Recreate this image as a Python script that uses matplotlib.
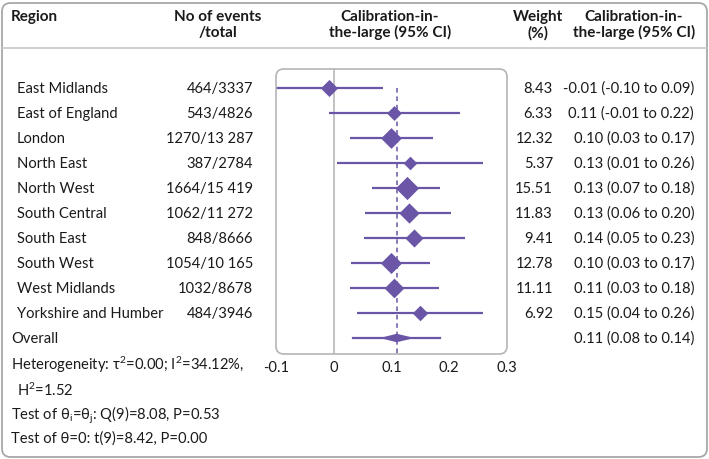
import matplotlib
matplotlib.use("Agg")
import matplotlib.pyplot as plt
import matplotlib.transforms as mtransforms
from matplotlib.patches import FancyBboxPatch
from matplotlib.lines import Line2D

plt.rcParams['font.family'] = ['Lato', 'DejaVu Sans']
plt.rcParams['mathtext.fontset'] = 'custom'
plt.rcParams['mathtext.rm'] = 'Lato'
plt.rcParams['mathtext.it'] = 'Lato:italic'
plt.rcParams['mathtext.bf'] = 'Lato:bold'

regions = ["East Midlands", "East of England", "London", "North East", "North West",
           "South Central", "South East", "South West", "West Midlands", "Yorkshire and Humber"]
events = ["464/3337", "543/4826", "1270/13 287", "387/2784", "1664/15 419",
          "1062/11 272", "848/8666", "1054/10 165", "1032/8678", "484/3946"]
estimate = [-0.009, 0.104, 0.099, 0.132, 0.126, 0.130, 0.139, 0.099, 0.104, 0.149]
ci_low = [-0.10, -0.008, 0.029, 0.006, 0.067, 0.054, 0.052, 0.030, 0.028, 0.041]
ci_high = [0.086, 0.219, 0.171, 0.259, 0.184, 0.203, 0.228, 0.167, 0.183, 0.258]
weights = [8.43, 6.33, 12.32, 5.37, 15.51, 11.83, 9.41, 12.78, 11.11, 6.92]
weight_labels = ["8.43", "6.33", "12.32", "5.37", "15.51", "11.83", "9.41", "12.78", "11.11", "6.92"]
ci_labels = ["-0.01 (-0.10 to 0.09)", "0.11 (-0.01 to 0.22)", "0.10 (0.03 to 0.17)",
             "0.13 (0.01 to 0.26)", "0.13 (0.07 to 0.18)", "0.13 (0.06 to 0.20)",
             "0.14 (0.05 to 0.23)", "0.10 (0.03 to 0.17)", "0.11 (0.03 to 0.18)",
             "0.15 (0.04 to 0.26)"]
overall_est = 0.109
overall_ci = (0.08, 0.14)
overall_pi = (0.034, 0.184)
overall_label = "0.11 (0.08 to 0.14)"
xticks = [-0.1, 0, 0.1, 0.2, 0.3]
xtick_labels = ["-0.1", "0", "0.1", "0.2", "0.3"]

PURPLE = "#6a55a7"
GRID = "#bdbdbd"
TXT = "#1a1a1a"
W, H = 709, 460
FS = 10.6
HFS = 11.0

fig = plt.figure(figsize=(W / 100, H / 100), dpi=100)

def fx(px):
    return px / W

def fy(py):
    return 1 - py / H

# outer rounded border
fig.patches.append(FancyBboxPatch((fx(2), fy(458)), fx(705), 454 / H,
                                  boxstyle="round,pad=0,rounding_size=0.012",
                                  mutation_aspect=W / H, transform=fig.transFigure,
                                  fill=False, edgecolor="#a8a8a8", linewidth=1.3))
# header separator
fig.add_artist(Line2D([fx(2), fx(707)], [fy(49), fy(49)], transform=fig.transFigure,
                      color="#c8c8c8", linewidth=1.2))

ax = fig.add_axes([fx(276), fy(355), fx(507) - fx(276), (355 - 70) / H])
n = len(regions)
ax.set_xlim(-0.1, 0.3)
ax.set_ylim(n + 0.64, -0.76)
for s in ax.spines.values():
    s.set_visible(False)
ax.set_yticks([])
ax.set_xticks(xticks)
ax.set_xticklabels(xtick_labels, fontsize=FS, color=TXT)
ax.tick_params(axis='x', length=0, pad=4)
ax.patch.set_alpha(0)

# plot box (rounded)
fig.patches.append(FancyBboxPatch((fx(276), fy(355)), fx(507) - fx(276), (355 - 70) / H,
                                  boxstyle="round,pad=0,rounding_size=0.011",
                                  mutation_aspect=W / H, transform=fig.transFigure,
                                  fill=False, edgecolor="#b5b5b5", linewidth=1.2, zorder=0))

ax.axvline(0, color=GRID, linewidth=1.3, zorder=1)
ax.plot([overall_est, overall_est], [0, n + 0.64], color=PURPLE, linestyle=(0, (3, 2.5)),
        linewidth=1.1, zorder=2)

rows = list(range(n))
for i in rows:
    ax.plot([ci_low[i], ci_high[i]], [i, i], color=PURPLE, linewidth=1.6, zorder=3,
            solid_capstyle='butt')
    ms = 4.25 * weights[i] ** 0.5
    ax.plot([estimate[i]], [i], marker=[(0, 1), (1, 0), (0, -1), (-1, 0)], markersize=ms,
            color=PURPLE, markeredgewidth=0, zorder=4)

# overall
ax.plot([overall_pi[0], overall_pi[1]], [n, n], color=PURPLE, linewidth=1.6, zorder=3)
h = 0.17
ax.fill([overall_ci[0], overall_est, overall_ci[1], overall_est], [n, n - h, n, n + h],
        color=PURPLE, zorder=4, linewidth=0)

# text columns
tr = mtransforms.blended_transform_factory(fig.transFigure, ax.transData)
for i in rows:
    fig.text(fx(17), i, regions[i], transform=tr, fontsize=FS, va='center', ha='left', color=TXT)
    fig.text(fx(253), i, events[i], transform=tr, fontsize=FS, va='center', ha='right', color=TXT)
    fig.text(fx(553), i, weight_labels[i], transform=tr, fontsize=FS, va='center', ha='right', color=TXT)
    fig.text(fx(694), i, ci_labels[i], transform=tr, fontsize=FS, va='center', ha='right', color=TXT)
fig.text(fx(11), n, "Overall", transform=tr, fontsize=FS, va='center', ha='left', color=TXT)
fig.text(fx(694), n, overall_label, transform=tr, fontsize=FS, va='center', ha='right', color=TXT)

# headers
hkw = dict(fontsize=HFS, fontweight='bold', va='center', color=TXT, linespacing=1.15)
fig.text(fx(11), fy(17), "Region", ha='left', **hkw)
fig.text(fx(218), fy(25), "No of events\n/total", ha='center', multialignment='center', **hkw)
fig.text(fx(390), fy(25), "Calibration-in-\nthe-large (95% CI)", ha='center', multialignment='center', **hkw)
fig.text(fx(538), fy(25), "Weight\n(%)", ha='center', multialignment='center', **hkw)
fig.text(fx(634), fy(25), "Calibration-in-\nthe-large (95% CI)", ha='center', multialignment='center', **hkw)

# footer
fkw = dict(fontsize=FS, va='center', ha='left', color=TXT)
fig.text(fx(11), fy(365), "Heterogeneity: τ$^{\\mathrm{2}}$=0.00; I$^{\\mathrm{2}}$=34.12%,", **fkw)
fig.text(fx(17), fy(390), "H$^{\\mathrm{2}}$=1.52", **fkw)
fig.text(fx(11), fy(415), "Test of θ$_{\\mathrm{i}}$=θ$_{\\mathrm{j}}$: Q(9)=8.08, P=0.53", **fkw)
fig.text(fx(11), fy(439), "Test of θ=0: t(9)=8.42, P=0.00", **fkw)

fig.savefig("out.png", dpi=100)
